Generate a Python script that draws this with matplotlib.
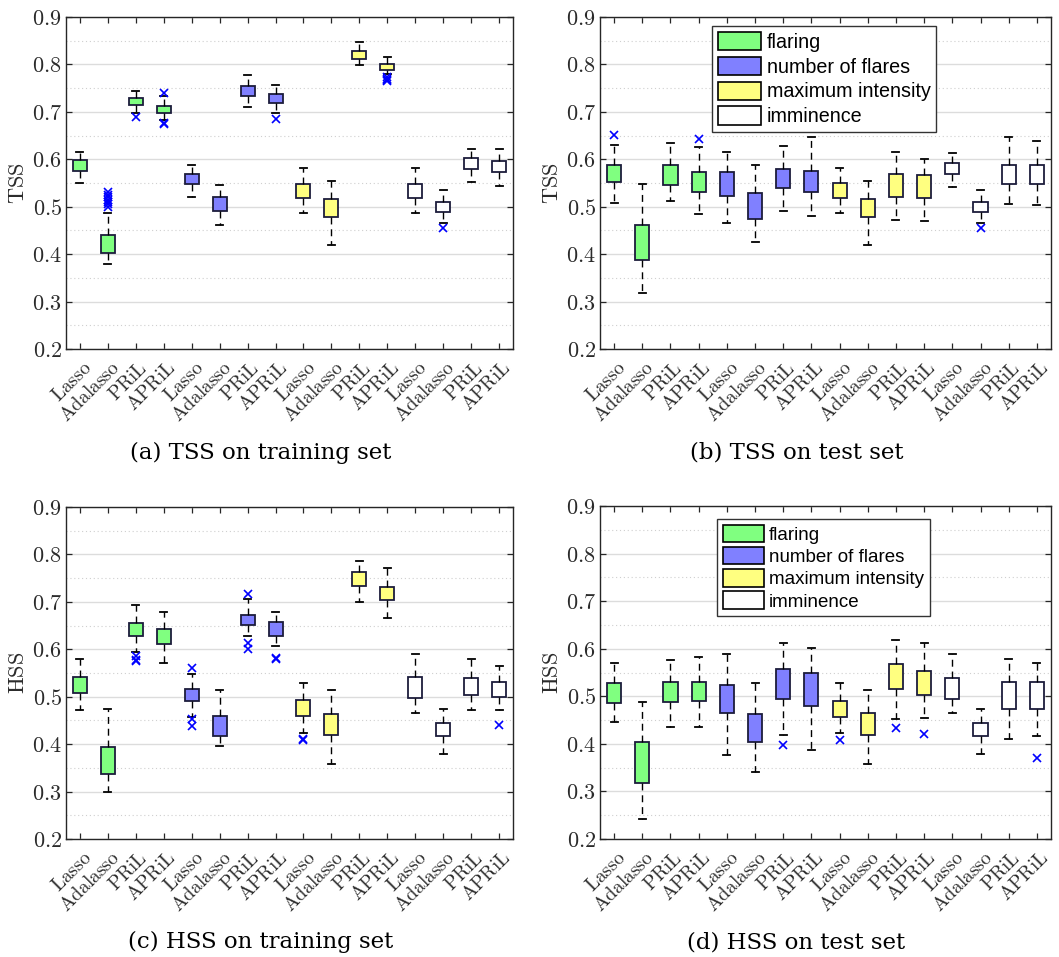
import matplotlib
matplotlib.use("Agg")
import matplotlib.pyplot as plt
import matplotlib.transforms as mtransforms
from matplotlib.patches import Patch
from matplotlib.ticker import MultipleLocator

plt.rcParams["mathtext.fontset"] = "cm"

methods = ["Lasso", "Adalasso", "PRiL", "APRiL"]
targets = ["flaring", "number of flares", "maximum intensity", "imminence"]
target_colors = ["#80ff80", "#8080ff", "#ffff80", "#ffffff"]

# ---- TSS on training set (16 boxes: 4 targets x 4 methods) ----
tss_train_lo = [0.549, 0.379, 0.697, 0.683, 0.521, 0.461, 0.711, 0.697,
                0.486, 0.420, 0.799, 0.779, 0.486, 0.466, 0.552, 0.543]
tss_train_q1 = [0.575, 0.402, 0.714, 0.698, 0.547, 0.490, 0.734, 0.718,
                0.519, 0.478, 0.811, 0.788, 0.519, 0.488, 0.580, 0.574]
tss_train_med = [0.588, 0.421, 0.722, 0.706, 0.559, 0.505, 0.744, 0.728,
                 0.535, 0.497, 0.820, 0.795, 0.535, 0.500, 0.592, 0.588]
tss_train_q3 = [0.598, 0.440, 0.730, 0.713, 0.570, 0.520, 0.754, 0.737,
                0.548, 0.517, 0.828, 0.801, 0.548, 0.509, 0.602, 0.597]
tss_train_hi = [0.616, 0.486, 0.745, 0.733, 0.588, 0.545, 0.777, 0.756,
                0.582, 0.554, 0.847, 0.816, 0.582, 0.536, 0.621, 0.621]
tss_train_out = [[], [0.500, 0.505, 0.510, 0.515, 0.520, 0.525, 0.530],
                 [0.689], [0.740, 0.677, 0.675], [], [], [], [0.685],
                 [], [], [], [0.773, 0.770, 0.767, 0.765], [], [0.455], [], []]

# ---- TSS on test set ----
tss_test_lo = [0.507, 0.318, 0.512, 0.484, 0.466, 0.426, 0.491, 0.481,
               0.486, 0.420, 0.472, 0.470, 0.542, 0.466, 0.506, 0.504]
tss_test_q1 = [0.552, 0.388, 0.546, 0.531, 0.522, 0.474, 0.539, 0.530,
               0.519, 0.478, 0.521, 0.519, 0.569, 0.488, 0.547, 0.547]
tss_test_med = [0.567, 0.410, 0.568, 0.552, 0.545, 0.500, 0.560, 0.553,
                0.535, 0.497, 0.545, 0.542, 0.582, 0.500, 0.567, 0.565]
tss_test_q3 = [0.589, 0.462, 0.587, 0.574, 0.573, 0.528, 0.580, 0.576,
               0.549, 0.517, 0.570, 0.566, 0.593, 0.509, 0.587, 0.587]
tss_test_hi = [0.630, 0.547, 0.634, 0.626, 0.615, 0.588, 0.628, 0.646,
               0.582, 0.554, 0.616, 0.600, 0.613, 0.536, 0.647, 0.638]
tss_test_out = [[0.652], [], [], [0.643], [], [], [], [],
                [], [], [], [], [], [0.455], [], []]

# ---- HSS on training set ----
hss_train_lo = [0.473, 0.299, 0.594, 0.571, 0.458, 0.397, 0.629, 0.606,
                0.424, 0.359, 0.699, 0.666, 0.465, 0.380, 0.473, 0.472]
hss_train_q1 = [0.508, 0.336, 0.629, 0.611, 0.490, 0.418, 0.651, 0.629,
                0.459, 0.420, 0.734, 0.703, 0.497, 0.417, 0.504, 0.499]
hss_train_med = [0.520, 0.360, 0.642, 0.625, 0.503, 0.440, 0.662, 0.643,
                 0.475, 0.440, 0.748, 0.716, 0.520, 0.430, 0.520, 0.515]
hss_train_q3 = [0.541, 0.393, 0.656, 0.642, 0.516, 0.459, 0.673, 0.657,
                0.493, 0.464, 0.762, 0.731, 0.541, 0.445, 0.539, 0.531]
hss_train_hi = [0.579, 0.475, 0.693, 0.678, 0.548, 0.515, 0.706, 0.679,
                0.529, 0.515, 0.787, 0.771, 0.590, 0.475, 0.579, 0.564]
hss_train_out = [[], [], [0.585, 0.578, 0.575], [], [0.561, 0.454, 0.438], [],
                 [0.716, 0.613, 0.601], [0.582, 0.579], [0.410, 0.408], [], [], [],
                 [], [], [], [0.441]]

# ---- HSS on test set ----
hss_test_lo = [0.446, 0.243, 0.436, 0.436, 0.377, 0.340, 0.419, 0.387,
               0.422, 0.357, 0.453, 0.455, 0.464, 0.378, 0.410, 0.417]
hss_test_q1 = [0.485, 0.317, 0.487, 0.490, 0.464, 0.403, 0.495, 0.480,
               0.457, 0.418, 0.515, 0.502, 0.495, 0.416, 0.473, 0.473]
hss_test_med = [0.500, 0.350, 0.500, 0.508, 0.490, 0.430, 0.525, 0.510,
                0.473, 0.440, 0.535, 0.525, 0.520, 0.430, 0.500, 0.495]
hss_test_q3 = [0.527, 0.404, 0.530, 0.530, 0.523, 0.462, 0.558, 0.548,
               0.491, 0.464, 0.567, 0.554, 0.539, 0.443, 0.530, 0.530]
hss_test_hi = [0.571, 0.488, 0.576, 0.583, 0.588, 0.527, 0.613, 0.602,
               0.528, 0.513, 0.618, 0.611, 0.588, 0.473, 0.579, 0.569]
hss_test_out = [[], [], [], [], [], [], [0.397], [],
                [0.408], [], [0.433], [0.420], [], [], [], [0.371]]

panels = [
    ("TSS", "(a) TSS on training set",
     tss_train_lo, tss_train_q1, tss_train_med, tss_train_q3, tss_train_hi, tss_train_out),
    ("TSS", "(b) TSS on test set",
     tss_test_lo, tss_test_q1, tss_test_med, tss_test_q3, tss_test_hi, tss_test_out),
    ("HSS", "(c) HSS on training set",
     hss_train_lo, hss_train_q1, hss_train_med, hss_train_q3, hss_train_hi, hss_train_out),
    ("HSS", "(d) HSS on test set",
     hss_test_lo, hss_test_q1, hss_test_med, hss_test_q3, hss_test_hi, hss_test_out),
]

W, H = 1059, 957
fig = plt.figure(figsize=(W / 100, H / 100), dpi=100)

# axes rectangles in pixels: left, top, right, bottom
rects = [(66, 17, 513, 349), (600, 17, 1051, 349),
         (66, 507, 513, 839), (600, 506, 1051, 839)]
caption_y = [453, 453, 942, 942]

frame_col = "#262626"
text_col = "#2b2b2b"
edge_col = "#1c1c3c"
yvals = [0.2, 0.3, 0.4, 0.5, 0.6, 0.7, 0.8, 0.9]

# small shift of the slanted category labels (in inches)
label_shift = mtransforms.ScaledTranslation(9 / 100, -3 / 100, fig.dpi_scale_trans)

for k, (ylab, caption, lo, q1, med, q3, hi, out) in enumerate(panels):
    l, t, r, b = rects[k]
    ax = fig.add_axes([l / W, 1 - b / H, (r - l) / W, (b - t) / H])

    stats = []
    for i in range(16):
        stats.append(dict(whislo=lo[i], q1=q1[i], med=med[i], q3=q3[i],
                          whishi=hi[i], fliers=out[i]))
    positions = list(range(1, 17))
    bp = ax.bxp(stats, positions=positions, widths=0.5, capwidths=0.25,
                patch_artist=True, showfliers=True,
                boxprops=dict(edgecolor=edge_col, linewidth=1.3),
                whiskerprops=dict(color="black", linestyle=(0, (5, 3.5)), linewidth=1.0),
                capprops=dict(color="black", linewidth=1.3),
                medianprops=dict(linewidth=0),
                flierprops=dict(marker="x", markeredgecolor="blue",
                                markersize=6, markeredgewidth=1.2, linestyle="none"),
                zorder=3)
    for i, box in enumerate(bp["boxes"]):
        box.set_facecolor(target_colors[i // 4])

    ax.set_xlim(0.5, 16.5)
    ax.set_ylim(0.2, 0.9)
    ax.yaxis.set_minor_locator(MultipleLocator(0.05))
    ax.set_yticks(yvals)
    ax.set_yticklabels([f"${v:.1f}$" for v in yvals], fontsize=16, color=text_col)
    ax.set_xticks(positions)
    ax.tick_params(axis="both", which="major", direction="in", length=4,
                   width=0.9, color=frame_col, top=True, right=True)
    ax.tick_params(axis="x", pad=9)
    ax.tick_params(axis="y", pad=3)
    ax.tick_params(which="minor", length=0)
    ax.set_xticklabels([f"$\\mathrm{{{m}}}$" for m in methods * 4], rotation=45,
                       ha="right", va="center", rotation_mode="anchor",
                       fontsize=14, color=text_col)
    for lab in ax.get_xticklabels():
        lab.set_transform(lab.get_transform() + label_shift)

    ax.grid(True, axis="y", which="major", color="#dcdcdc", linewidth=1.0, zorder=0)
    ax.grid(True, axis="y", which="minor", color="#cfcfcf", linewidth=0.8,
            linestyle=(0, (1, 2.5)), zorder=0)
    ax.set_axisbelow(True)
    for sp in ax.spines.values():
        sp.set_color(frame_col)
        sp.set_linewidth(1.0)

    ax.set_ylabel(f"$\\mathrm{{{ylab}}}$", fontsize=16, color=text_col, labelpad=3)

    fig.text(((l + r) / 2 - 29) / W, 1 - caption_y[k] / H, caption,
             ha="center", va="center", fontsize=16.5, family="DejaVu Serif")

    if k in (1, 3):
        handles = [Patch(facecolor=c, edgecolor="black", linewidth=1.2) for c in target_colors]
        if k == 1:
            anchor, fs, lsp = (712 / W, 1 - 26 / H), 14.2, 0.25
        else:
            anchor, fs, lsp = (717 / W, 1 - 519 / H), 13.5, 0.17
        leg = fig.legend(handles, targets, loc="upper left", bbox_to_anchor=anchor,
                         bbox_transform=fig.transFigure,
                         prop=dict(family="Liberation Sans", size=fs),
                         handlelength=2.2, handleheight=1.05, handletextpad=0.27,
                         labelspacing=lsp, borderpad=0.3, borderaxespad=0,
                         fancybox=False, framealpha=1, edgecolor="#333333")
        leg.get_frame().set_linewidth(1.0)

fig.savefig("out.png", dpi=100)
